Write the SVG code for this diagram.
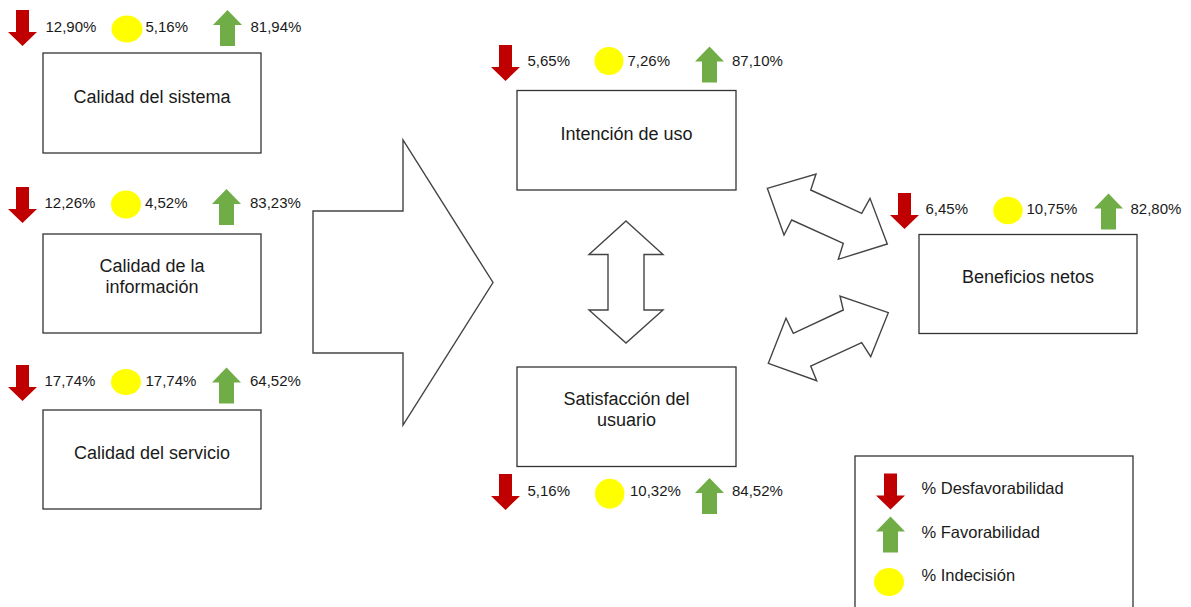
<svg xmlns="http://www.w3.org/2000/svg" xmlns:xlink="http://www.w3.org/1999/xlink" width="1191" height="607" viewBox="0 0 1191 607">
<style>
  text { font-family: "Liberation Sans", Arial, sans-serif; fill: #1a1a1a; }
  .pct { font-size: 15px; }
  .lbl { font-size: 18px; text-anchor: middle; }
  .leg { font-size: 16.5px; }
  .box { fill: #ffffff; stroke: #333333; stroke-width: 1.3; }
  .big { fill: #ffffff; stroke: #444444; stroke-width: 1.4; stroke-linejoin: miter; }
  .dn { fill: #C00000; }
  .up { fill: #70AD47; }
  .ind { fill: #FFFF00; }
</style>
<defs>
  <path id="down" class="dn" d="M8,0 H21 V22 H29 L14.5,36 L0,22 H8 Z"/>
  <path id="upa" class="up" d="M14.5,0 L29,15 H22 V36 H7 V15 H0 Z"/>
</defs>
<rect x="0" y="0" width="1191" height="607" fill="#ffffff"/>

<g id="connectors">
  <polygon class="big" points="313,211 403,211 403,140 493,282.5 403,425 403,353 313,353"/>
  <polygon class="big" points="626,221 663,254.5 644,254.5 644,310 663,310 626,343 589,310 608,310 608,254.5 589,254.5"/>
  <polygon class="big" points="767.3,188.3 816,174 810.7,190 861.7,213.3 870,198.3 887.3,244 838.3,259.3 843.3,243.3 791.7,220 784,235"/>
  <polygon class="big" points="888.3,312.7 840,296 843.3,310 793.3,333.3 786,318.3 768.3,363.3 816.7,380.7 810.7,366 861.7,342.7 870.7,356.7"/>
</g>

<g id="calidad-sistema">
  <use href="#down" x="8" y="10"/>
  <text class="pct" x="45.5" y="32">12,90%</text>
  <ellipse class="ind" cx="127" cy="29" rx="15.5" ry="13.5"/>
  <text class="pct" x="145.5" y="32">5,16%</text>
  <use href="#upa" x="213" y="10"/>
  <text class="pct" x="250.5" y="32">81,94%</text>
  <rect class="box" x="43" y="53" width="218" height="100"/>
  <text class="lbl" x="152" y="103">Calidad del sistema</text>
</g>

<g id="calidad-informacion">
  <use href="#down" x="8" y="187"/>
  <text class="pct" x="44.5" y="207.5">12,26%</text>
  <ellipse class="ind" cx="126" cy="204.5" rx="15" ry="14"/>
  <text class="pct" x="145" y="207.5">4,52%</text>
  <use href="#upa" x="212" y="189"/>
  <text class="pct" x="250" y="207.5">83,23%</text>
  <rect class="box" x="43" y="234" width="218" height="99"/>
  <text class="lbl" x="152" y="272">Calidad de la</text>
  <text class="lbl" x="152" y="293">información</text>
</g>

<g id="calidad-servicio">
  <use href="#down" x="8" y="365"/>
  <text class="pct" x="44.5" y="386">17,74%</text>
  <ellipse class="ind" cx="126" cy="382" rx="15" ry="13"/>
  <text class="pct" x="145.5" y="386">17,74%</text>
  <use href="#upa" x="212" y="367.5"/>
  <text class="pct" x="250" y="386">64,52%</text>
  <rect class="box" x="43" y="410" width="218" height="99"/>
  <text class="lbl" x="152" y="458.5">Calidad del servicio</text>
</g>

<g id="intencion-uso">
  <use href="#down" x="491" y="45"/>
  <text class="pct" x="527.5" y="66">5,65%</text>
  <ellipse class="ind" cx="609" cy="61" rx="14.5" ry="14"/>
  <text class="pct" x="627.5" y="66">7,26%</text>
  <use href="#upa" x="695" y="46.5"/>
  <text class="pct" x="732" y="66">87,10%</text>
  <rect class="box" x="517" y="90.5" width="219" height="99.5"/>
  <text class="lbl" x="626.5" y="140">Intención de uso</text>
</g>

<g id="satisfaccion-usuario">
  <rect class="box" x="517" y="367" width="219" height="99.5"/>
  <text class="lbl" x="626.5" y="405">Satisfacción del</text>
  <text class="lbl" x="626.5" y="425.5">usuario</text>
  <use href="#down" x="491" y="474"/>
  <text class="pct" x="527.5" y="495.5">5,16%</text>
  <ellipse class="ind" cx="609.7" cy="493.7" rx="14.7" ry="15"/>
  <text class="pct" x="630" y="495.5">10,32%</text>
  <use href="#upa" x="695" y="478"/>
  <text class="pct" x="732" y="495.5">84,52%</text>
</g>

<g id="beneficios-netos">
  <use href="#down" x="890" y="193"/>
  <text class="pct" x="925.5" y="213.5">6,45%</text>
  <ellipse class="ind" cx="1008" cy="210.5" rx="14.7" ry="13.8"/>
  <text class="pct" x="1026.5" y="213.5">10,75%</text>
  <use href="#upa" x="1094" y="193.5"/>
  <text class="pct" x="1130.5" y="213.5">82,80%</text>
  <rect class="box" x="919" y="234.5" width="218" height="99"/>
  <text class="lbl" x="1028" y="283">Beneficios netos</text>
</g>

<g id="leyenda">
  <rect class="box" x="855" y="456" width="278" height="170"/>
  <use href="#down" x="876" y="473.5"/>
  <text class="leg" x="921.5" y="493.5">% Desfavorabilidad</text>
  <use href="#upa" x="876" y="516.5"/>
  <text class="leg" x="921.5" y="537.5">% Favorabilidad</text>
  <ellipse class="ind" cx="889" cy="582" rx="15" ry="14"/>
  <text class="leg" x="921.5" y="581">% Indecisión</text>
</g>
</svg>
